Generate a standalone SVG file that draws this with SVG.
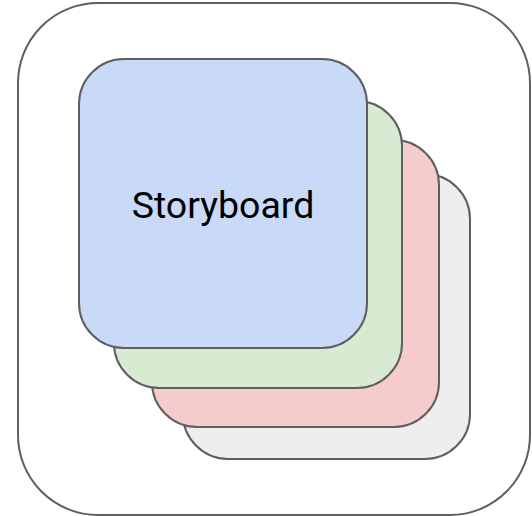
<svg xmlns="http://www.w3.org/2000/svg" width="532" height="516" viewBox="0 0 532 516">
<style>
.card{stroke:#5f5f5f;stroke-width:2}
.lbl{font-family:Roboto,"Liberation Sans",sans-serif;font-size:37.5px;fill:#000}
</style>
<rect width="532" height="516" fill="#fff"/>
<g id="frame"><rect class="card" x="18" y="3" width="512" height="512" rx="80" ry="80" fill="#fff"/></g>
<g id="card-gray"><rect class="card" x="183" y="174" width="287" height="285" rx="45" ry="45" fill="#eeeeee"/></g>
<g id="card-red"><rect class="card" x="152" y="140" width="287" height="287" rx="45" ry="45" fill="#f4cccc"/></g>
<g id="card-green"><rect class="card" x="114" y="101" width="288" height="287" rx="45" ry="45" fill="#d9ead3"/></g>
<g id="storyboard"><rect class="card" x="79" y="59" width="288" height="289" rx="45" ry="45" fill="#c9daf8"/>
<text class="lbl" x="223" y="218" text-anchor="middle">Storyboard</text></g>
<g id="connectors"/>
</svg>
